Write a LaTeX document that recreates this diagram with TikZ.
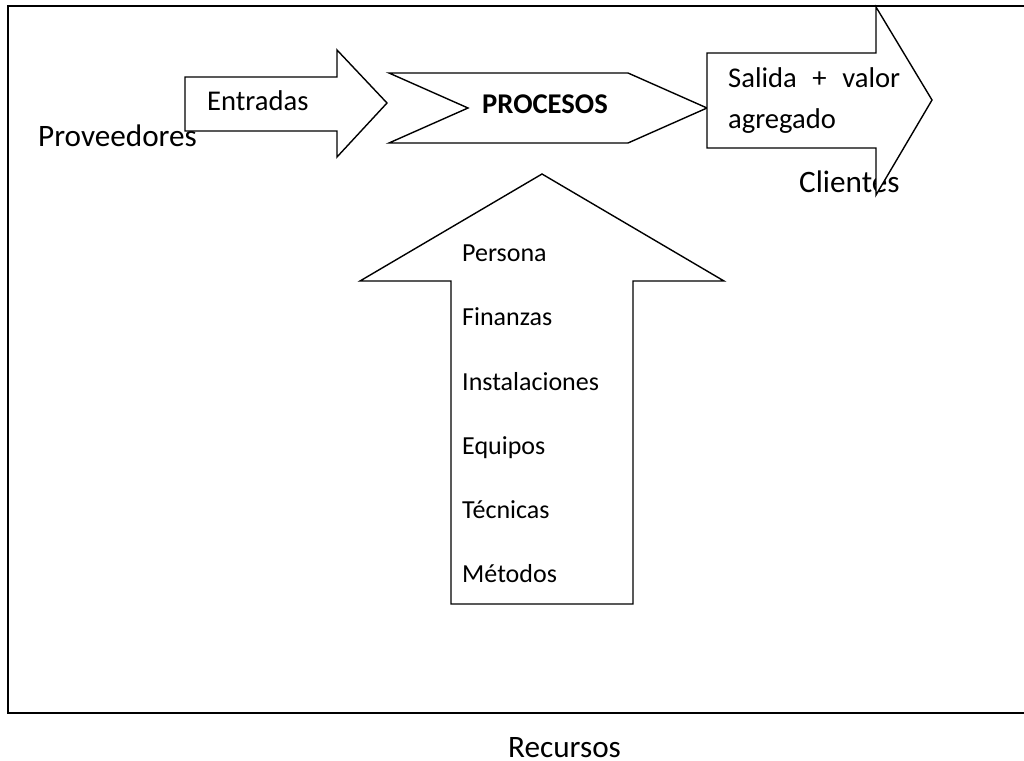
\documentclass[tikz,border=0pt]{standalone}
\usepackage{fontspec}
\setmainfont{Carlito}
\begin{document}
\begin{tikzpicture}[x=1pt,y=-1pt,
  shapeline/.style={draw=black,line width=1.4pt,fill=white,line join=miter},
  frameline/.style={draw=black,line width=2pt},
  txtA/.style={inner sep=0pt,anchor=base west,font=\fontsize{28.6}{34}\selectfont},
  txtB/.style={inner sep=0pt,anchor=base west,font=\fontsize{31.2}{37}\selectfont},
  txtC/.style={inner sep=0pt,anchor=base west,font=\fontsize{26}{31}\selectfont}]
\useasboundingbox (0,0) rectangle (1024,760);
\fill[white] (0,0) rectangle (1024,760);
% outer frame (its right edge runs off the page)
\draw[frameline] (1040,6.5) -- (8,6.5) -- (8,713) -- (1040,713);
% labels outside the arrows
\node[txtB] (prov) at (38,146) {Proveedores};
\node[txtB] (cli) at (799,192) {Clientes};
\node[txtB] (rec) at (508,757) {Recursos};
% input arrow
\draw[shapeline] (185,77) -- (337,77) -- (337,50) -- (387,103) -- (337,157) -- (337,131) -- (185,131) -- cycle;
\node[txtA] (ent) at (207,110) {Entradas};
% process chevron
\draw[shapeline] (389,73) -- (628,73) -- (707,108) -- (628,143) -- (389,143) -- (468,108) -- cycle;
\node[txtA,font=\fontsize{28.6}{34}\selectfont\bfseries] (proc) at (482,113) {PROCESOS};
% output arrow
\draw[shapeline] (707,53) -- (876,53) -- (876,7) -- (932,100) -- (876,195) -- (876,148) -- (707,148) -- cycle;
\node[txtA] (sal1) at (728,87) {\makebox[172pt][s]{Salida\hfil+\hfil valor}};
\node[txtA] (sal2) at (728,128) {agregado};
% resources arrow
\draw[shapeline] (542,174) -- (724,281) -- (633,281) -- (633,604) -- (451,604) -- (451,281) -- (360,281) -- cycle;
\node[txtC] (r1) at (462,261) {Persona};
\node[txtC] (r2) at (462,325) {Finanzas};
\node[txtC] (r3) at (462,390) {Instalaciones};
\node[txtC] (r4) at (462,454) {Equipos};
\node[txtC] (r5) at (462,518) {Técnicas};
\node[txtC] (r6) at (462,582) {Métodos};
\end{tikzpicture}
\end{document}
